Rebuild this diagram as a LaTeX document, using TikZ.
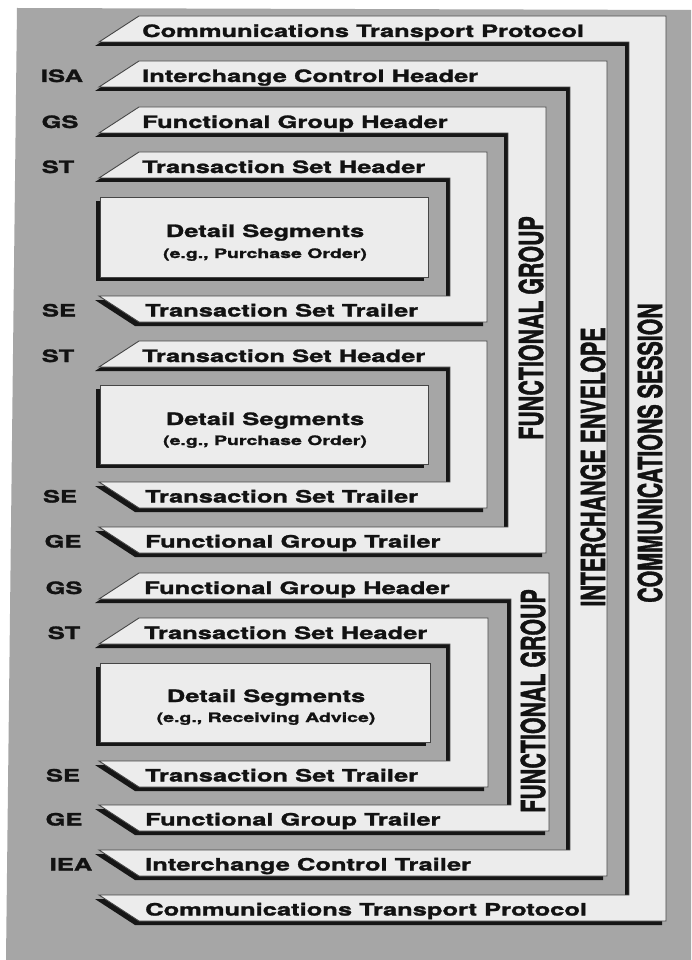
\documentclass[tikz,border=0pt]{standalone}
\usepackage{fontspec}
\usepackage{graphicx}
\newfontfamily\hvw[FakeStretch=1.50, BoldFeatures={FakeBold=1.6}]{TeX Gyre Heros}
\newfontfamily\hvn[BoldFeatures={FakeBold=1.6}]{TeX Gyre Heros}
\definecolor{bgc}{RGB}{166,166,166}
\definecolor{bandc}{RGB}{236,236,236}
\definecolor{shc}{RGB}{22,22,22}
\definecolor{edgec}{RGB}{70,70,70}
\definecolor{txtc}{RGB}{18,18,18}
\tikzset{
  bandfill/.style={fill=bandc,draw=edgec,line width=0.9pt,line join=miter},
  shadowfill/.style={fill=shc},
  bandtxt/.style={anchor=base west,inner sep=0pt,text=txtc,font=\hvw\bfseries\fontsize{17}{20}\selectfont},
  segtag/.style={anchor=base,inner sep=0pt,text=txtc,font=\hvw\bfseries\fontsize{17}{20}\selectfont},
  dettxt/.style={anchor=base,inner sep=0pt,text=txtc,font=\hvw\bfseries\fontsize{17}{20}\selectfont},
  detsub/.style={anchor=base,inner sep=0pt,text=txtc,font=\hvw\bfseries\fontsize{13}{16}\selectfont},
  vtxt/.style={rotate=90,inner sep=0pt,text=txtc,font=\hvn\bfseries\fontsize{21.4}{24}\selectfont}
}
% #1 header top, #2 trailer top, #3 bar left, #4 bar right
\newcommand{\edicframe}[4]{%
  \path[shadowfill,shift={(-4,4)}] (139,#1) -- (#4,#1) -- (#4,{#2+26}) -- (139,{#2+26}) -- (99,#2) -- (#3,#2) -- (#3,{#1+26}) -- (99,{#1+26}) -- cycle;
  \path[bandfill] (139,#1) -- (#4,#1) -- (#4,{#2+26}) -- (139,{#2+26}) -- (99,#2) -- (#3,#2) -- (#3,{#1+26}) -- (99,{#1+26}) -- cycle;
}
% #1 left, #2 top, #3 right, #4 bottom
\newcommand{\edicbox}[4]{%
  \path[shadowfill,shift={(-4,4)}] (#1,#2) rectangle (#3,#4);
  \path[bandfill] (#1,#2) rectangle (#3,#4);
}
\begin{document}
\begin{tikzpicture}[x=1pt,y=-1pt]
\useasboundingbox (0,0) rectangle (691,960);
\fill[white] (0,0) rectangle (691,960);
\fill[bgc] (17,8) -- (691,10) -- (691,960) -- (6,960) -- cycle;

% frames, outermost first
\edicframe{16}{895}{629}{666}
\edicframe{61}{850}{570}{607}
\edicframe{107}{527}{508}{546}
\edicframe{152}{296}{450}{487}
\edicbox{100}{197}{428}{277}
\edicframe{341}{482}{450}{487}
\edicbox{100}{385}{428}{464}
\edicframe{573}{805}{511}{549}
\edicframe{618}{761}{450}{488}
\edicbox{100}{663}{430}{742}

% header / trailer texts
\node[bandtxt] (cth) at (142,37) {Communications Transport Protocol};
\node[bandtxt] (ich) at (142,82) {Interchange Control Header};
\node[bandtxt] (fgh1) at (142,128) {Functional Group Header};
\node[bandtxt] (tsh1) at (142,173) {Transaction Set Header};
\node[bandtxt] (tst1) at (145,316.5) {Transaction Set Trailer};
\node[bandtxt] (tsh2) at (142,362) {Transaction Set Header};
\node[bandtxt] (tst2) at (145,502.5) {Transaction Set Trailer};
\node[bandtxt] (fgt1) at (145,547.5) {Functional Group Trailer};
\node[bandtxt] (fgh2) at (144,594) {Functional Group Header};
\node[bandtxt] (tsh3) at (144,639) {Transaction Set Header};
\node[bandtxt] (tst3) at (145,781.5) {Transaction Set Trailer};
\node[bandtxt] (fgt2) at (145,825.5) {Functional Group Trailer};
\node[bandtxt] (ict) at (145,870.5) {Interchange Control Trailer};
\node[bandtxt] (ctt) at (145,915.5) {Communications Transport Protocol};

% segment tags
\node[segtag] (isa) at (62,82) {ISA};
\node[segtag] (gs1) at (60,128) {GS};
\node[segtag] (st1) at (58,173) {ST};
\node[segtag] (se1) at (59,316.5) {SE};
\node[segtag] (st2) at (58,362) {ST};
\node[segtag] (se2) at (60,502.5) {SE};
\node[segtag] (ge1) at (63,547.5) {GE};
\node[segtag] (gs2) at (64,594) {GS};
\node[segtag] (st3) at (64,639) {ST};
\node[segtag] (se3) at (63,781.5) {SE};
\node[segtag] (ge2) at (64,825.5) {GE};
\node[segtag] (iea) at (71,870.5) {IEA};

% detail segments
\node[dettxt] (d1a) at (265,237) {Detail Segments};
\node[detsub] (d1b) at (265,258) {(e.g., Purchase Order)};
\node[dettxt] (d2a) at (265,425) {Detail Segments};
\node[detsub] (d2b) at (265,445) {(e.g., Purchase Order)};
\node[dettxt] (d3a) at (266,702) {Detail Segments};
\node[detsub] (d3b) at (266,722) {(e.g., Receiving Advice)};

% vertical labels
\node[vtxt] (fgv1) at (531,328) {\scalebox{1}[1.55]{FUNCTIONAL GROUP}};
\node[vtxt] (fgv2) at (533,701) {\scalebox{1}[1.55]{FUNCTIONAL GROUP}};
\node[vtxt] (iev) at (593,467) {\scalebox{1}[1.55]{INTERCHANGE ENVELOPE}};
\node[vtxt] (csv) at (650,453) {\scalebox{1}[1.55]{COMMUNICATIONS SESSION}};
\end{tikzpicture}
\end{document}
